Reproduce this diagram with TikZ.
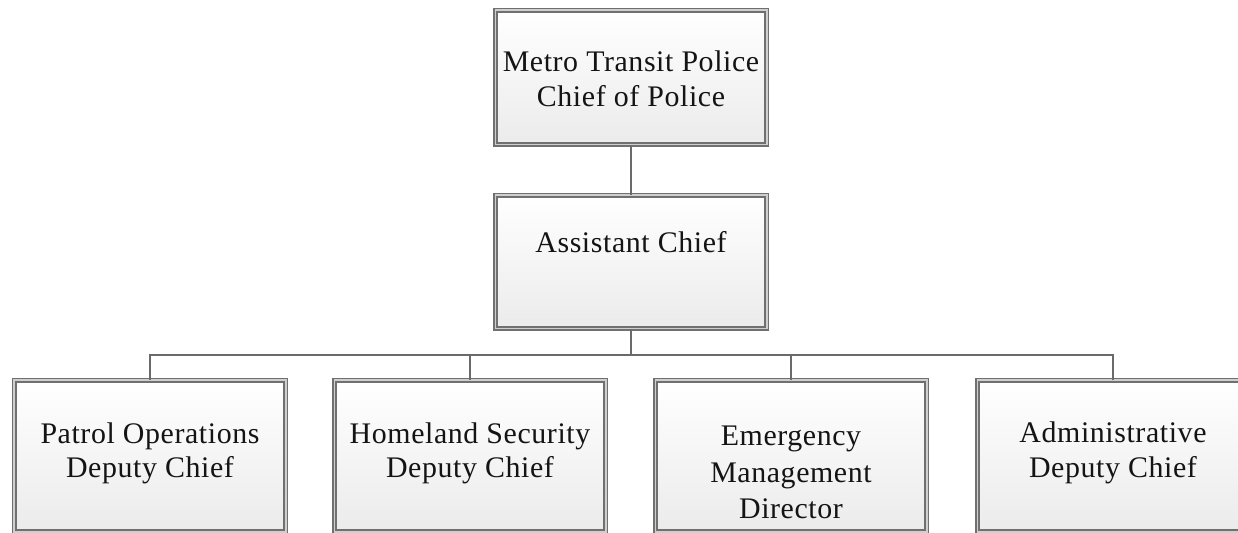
\documentclass[tikz,border=0pt]{standalone}
\usepackage{fontspec}
\setmainfont{Liberation Serif}[LetterSpace=2]
\definecolor{bordc}{HTML}{707070}
\definecolor{gapc}{HTML}{CFCFCF}
\definecolor{linec}{HTML}{6A6A6A}
\definecolor{txtc}{HTML}{141414}
\definecolor{botfill}{HTML}{EBEBEB}
\tikzset{
  orgbox/.style={draw=bordc, line width=1.5bp, double=gapc, double distance=1.6bp,
    top color=white, bottom color=botfill, inner sep=0pt,
    minimum width=271.4bp},
  lbl/.style={anchor=base, inner sep=0pt, text=txtc, font=\fontsize{30}{35}\selectfont},
  conn/.style={draw=linec, line width=1.7bp},
}
\begin{document}
\begin{tikzpicture}[x=1bp, y=-1bp]
\useasboundingbox (0,0) rectangle (1238,533);
\fill[white] (0,0) rectangle (1238,533);
% boxes
\node[orgbox, minimum height=134.4bp] (chief) at (631,77.5) {};
\node[orgbox, minimum height=133.4bp] (asst) at (631,262) {};
\node[orgbox, minimum height=151.4bp] (patrol) at (150,456) {};
\node[orgbox, minimum height=151.4bp] (home) at (470,456) {};
\node[orgbox, minimum height=151.4bp] (emerg) at (791,456) {};
\node[orgbox, minimum height=151.4bp] (admin) at (1113,456) {};
% connectors
\coordinate (bus) at (631,355);
\draw[conn] (chief.south) -- (asst.north);
\draw[conn] (asst.south) -- (bus);
\draw[conn] (patrol.north) |- (bus);
\draw[conn] (home.north) |- (bus);
\draw[conn] (emerg.north) |- (bus);
\draw[conn] (admin.north) |- (bus);
% labels
\node[lbl] (c1) at (631,72) {Metro Transit Police};
\node[lbl] (c2) at (631,107) {Chief of Police};
\node[lbl] (a1) at (631,253) {Assistant Chief};
\node[lbl] (p1) at (150,443) {Patrol Operations};
\node[lbl] (p2) at (150,477) {Deputy Chief};
\node[lbl] (h1) at (470,443) {Homeland Security};
\node[lbl] (h2) at (470,477) {Deputy Chief};
\node[lbl] (e1) at (791,445) {Emergency};
\node[lbl] (e2) at (791,482) {Management};
\node[lbl] (e3) at (791,518) {Director};
\node[lbl] (d1) at (1113,442) {Administrative};
\node[lbl] (d2) at (1113,477) {Deputy Chief};
\end{tikzpicture}
\end{document}
